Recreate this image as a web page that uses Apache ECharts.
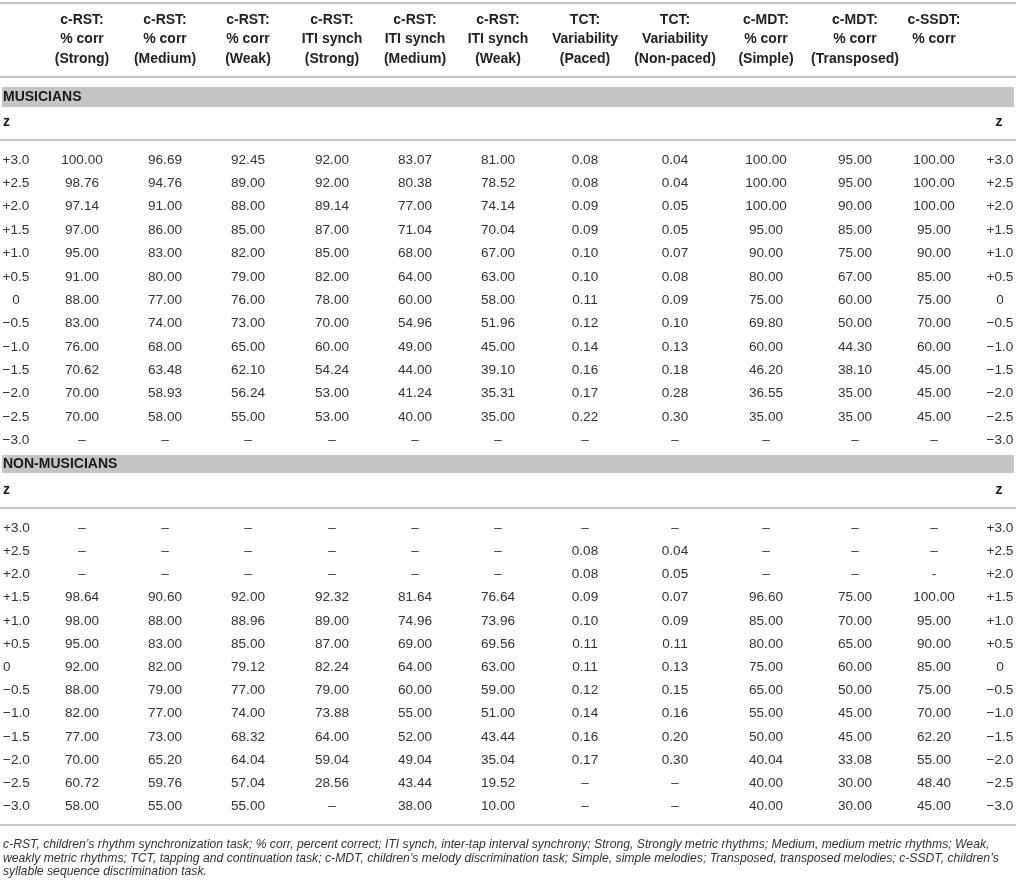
<!DOCTYPE html>
<html>
<head>
<meta charset="utf-8">
<script src="https://cdn.jsdelivr.net/npm/echarts@6/dist/echarts.min.js"></script>
<style>
html, body { margin: 0; padding: 0; background: #fff; }
#main { width: 1016px; height: 888px; }
</style>
</head>
<body>
<div id="main"></div>
<script>
// z rows, top to bottom
var zLabels = ['+3.0', '+2.5', '+2.0', '+1.5', '+1.0', '+0.5', '0', '−0.5', '−1.0', '−1.5', '−2.0', '−2.5', '−3.0'];

// column headings (three lines each)
var headers = [
    ['c-RST:', '% corr', '(Strong)'],
    ['c-RST:', '% corr', '(Medium)'],
    ['c-RST:', '% corr', '(Weak)'],
    ['c-RST:', 'ITI synch', '(Strong)'],
    ['c-RST:', 'ITI synch', '(Medium)'],
    ['c-RST:', 'ITI synch', '(Weak)'],
    ['TCT:', 'Variability', '(Paced)'],
    ['TCT:', 'Variability', '(Non-paced)'],
    ['c-MDT:', '% corr', '(Simple)'],
    ['c-MDT:', '% corr', '(Transposed)'],
    ['c-SSDT:', '% corr', '']
];

// musicians, one array per column (null = no value)
var musCorrStrong = [100.00, 98.76, 97.14, 97.00, 95.00, 91.00, 88.00, 83.00, 76.00, 70.62, 70.00, 70.00, null];
var musCorrMedium = [96.69, 94.76, 91.00, 86.00, 83.00, 80.00, 77.00, 74.00, 68.00, 63.48, 58.93, 58.00, null];
var musCorrWeak = [92.45, 89.00, 88.00, 85.00, 82.00, 79.00, 76.00, 73.00, 65.00, 62.10, 56.24, 55.00, null];
var musItiStrong = [92.00, 92.00, 89.14, 87.00, 85.00, 82.00, 78.00, 70.00, 60.00, 54.24, 53.00, 53.00, null];
var musItiMedium = [83.07, 80.38, 77.00, 71.04, 68.00, 64.00, 60.00, 54.96, 49.00, 44.00, 41.24, 40.00, null];
var musItiWeak = [81.00, 78.52, 74.14, 70.04, 67.00, 63.00, 58.00, 51.96, 45.00, 39.10, 35.31, 35.00, null];
var musTctPaced = [0.08, 0.08, 0.09, 0.09, 0.10, 0.10, 0.11, 0.12, 0.14, 0.16, 0.17, 0.22, null];
var musTctNonPaced = [0.04, 0.04, 0.05, 0.05, 0.07, 0.08, 0.09, 0.10, 0.13, 0.18, 0.28, 0.30, null];
var musMdtSimple = [100.00, 100.00, 100.00, 95.00, 90.00, 80.00, 75.00, 69.80, 60.00, 46.20, 36.55, 35.00, null];
var musMdtTransposed = [95.00, 95.00, 90.00, 85.00, 75.00, 67.00, 60.00, 50.00, 44.30, 38.10, 35.00, 35.00, null];
var musSsdt = [100.00, 100.00, 100.00, 95.00, 90.00, 85.00, 75.00, 70.00, 60.00, 45.00, 45.00, 45.00, null];

// non-musicians
var nonCorrStrong = [null, null, null, 98.64, 98.00, 95.00, 92.00, 88.00, 82.00, 77.00, 70.00, 60.72, 58.00];
var nonCorrMedium = [null, null, null, 90.60, 88.00, 83.00, 82.00, 79.00, 77.00, 73.00, 65.20, 59.76, 55.00];
var nonCorrWeak = [null, null, null, 92.00, 88.96, 85.00, 79.12, 77.00, 74.00, 68.32, 64.04, 57.04, 55.00];
var nonItiStrong = [null, null, null, 92.32, 89.00, 87.00, 82.24, 79.00, 73.88, 64.00, 59.04, 28.56, null];
var nonItiMedium = [null, null, null, 81.64, 74.96, 69.00, 64.00, 60.00, 55.00, 52.00, 49.04, 43.44, 38.00];
var nonItiWeak = [null, null, null, 76.64, 73.96, 69.56, 63.00, 59.00, 51.00, 43.44, 35.04, 19.52, 10.00];
var nonTctPaced = [null, 0.08, 0.08, 0.09, 0.10, 0.11, 0.11, 0.12, 0.14, 0.16, 0.17, null, null];
var nonTctNonPaced = [null, 0.04, 0.05, 0.07, 0.09, 0.11, 0.13, 0.15, 0.16, 0.20, 0.30, null, null];
var nonMdtSimple = [null, null, null, 96.60, 85.00, 80.00, 75.00, 65.00, 55.00, 50.00, 40.04, 40.00, 40.00];
var nonMdtTransposed = [null, null, null, 75.00, 70.00, 65.00, 60.00, 50.00, 45.00, 45.00, 33.08, 30.00, 30.00];
var nonSsdt = [null, null, '-', 100.00, 95.00, 90.00, 85.00, 75.00, 70.00, 62.20, 55.00, 48.40, 45.00];

var footnote = [
    'c-RST, children’s rhythm synchronization task; % corr, percent correct; ITI synch, inter-tap interval synchrony; Strong, Strongly metric rhythms; Medium, medium metric rhythms; Weak,',
    'weakly metric rhythms; TCT, tapping and continuation task; c-MDT, children’s melody discrimination task; Simple, simple melodies; Transposed, transposed melodies; c-SSDT, children’s',
    'syllable sequence discrimination task.'
];

(function () {
    var W = 1016, H = 888;
    var FONT = '"Liberation Sans", Arial, sans-serif';

    // layout (page units, mapped through the value axes)
    var colX = [16, 82, 165, 248, 332, 415, 498, 585, 675, 766, 855, 934, 1000];
    var headerY = [20, 39, 59];
    var ruleY = [3, 77, 140, 508, 825];
    var footY = [845, 858.5, 872];

    var sections = [
        {
            name: 'MUSICIANS',
            cols: [musCorrStrong, musCorrMedium, musCorrWeak, musItiStrong, musItiMedium, musItiWeak,
                musTctPaced, musTctNonPaced, musMdtSimple, musMdtTransposed, musSsdt],
            band: [87, 107], zY: 122, first: 160, step: 23.35, leftAlign: 'center'
        },
        {
            name: 'NON-MUSICIANS',
            cols: [nonCorrStrong, nonCorrMedium, nonCorrWeak, nonItiStrong, nonItiMedium, nonItiWeak,
                nonTctPaced, nonTctNonPaced, nonMdtSimple, nonMdtTransposed, nonSsdt],
            band: [455, 473], zY: 490, first: 528, step: 23.2, leftAlign: 'left'
        }
    ];

    var cells = [];
    function put(x, y, text, font, fill, align) {
        cells.push({ value: [x, y], text: text, font: font, fill: fill, align: align });
    }
    var bold = 'bold 14px ' + FONT;
    var bandFont = 'bold 14px ' + FONT;
    var body = '13.6px ' + FONT;

    headers.forEach(function (lines, j) {
        lines.forEach(function (t, k) {
            if (t) put(colX[j + 1], headerY[k], t, bold, '#222', 'center');
        });
    });

    var bands = [];
    sections.forEach(function (s) {
        bands.push([2, s.band[0], 1014, s.band[1]]);
        put(3, (s.band[0] + s.band[1]) / 2, s.name, bandFont, '#1a1a1a', 'left');
        put(3, s.zY, 'z', bandFont, '#1a1a1a', 'left');
        put(999, s.zY, 'z', bandFont, '#1a1a1a', 'center');
        zLabels.forEach(function (z, i) {
            var y = s.first + i * s.step;
            if (s.leftAlign === 'left') put(3, y, z, body, '#333', 'left');
            else put(colX[0], y, z, body, '#333', 'center');
            put(colX[12], y, z, body, '#333', 'center');
            s.cols.forEach(function (col, j) {
                var v = col[i];
                var t = v == null ? '–' : (typeof v === 'number' ? v.toFixed(2) : v);
                put(colX[j + 1], y, t, body, '#333', 'center');
            });
        });
    });

    footnote.forEach(function (t, k) {
        put(3, footY[k], t, 'italic 12.2px ' + FONT, '#333', 'left');
    });

    var chart = echarts.init(document.getElementById('main'));
    chart.setOption({
        animation: false,
        grid: { left: 0, right: 0, top: 0, bottom: 0 },
        xAxis: { type: 'value', min: 0, max: W, show: false },
        yAxis: { type: 'value', min: 0, max: H, inverse: true, show: false },
        series: [
            {
                type: 'custom',
                name: 'bands',
                silent: true,
                data: bands,
                renderItem: function (params, api) {
                    var a = api.coord([api.value(0), api.value(1)]);
                    var b = api.coord([api.value(2), api.value(3)]);
                    return {
                        type: 'rect',
                        shape: { x: a[0], y: a[1], width: b[0] - a[0], height: b[1] - a[1] },
                        style: { fill: '#c4c4c4' }
                    };
                }
            },
            {
                type: 'custom',
                name: 'rules',
                silent: true,
                data: ruleY.map(function (y) { return [0, y, W]; }),
                renderItem: function (params, api) {
                    var a = api.coord([api.value(0), api.value(1)]);
                    var b = api.coord([api.value(2), api.value(1)]);
                    return {
                        type: 'line',
                        shape: { x1: a[0], y1: a[1], x2: b[0], y2: b[1] },
                        style: { stroke: '#c6c6c6', lineWidth: 2 }
                    };
                }
            },
            {
                type: 'custom',
                name: 'cells',
                silent: true,
                data: cells.map(function (c) { return c.value; }),
                renderItem: function (params, api) {
                    var c = cells[params.dataIndex];
                    var p = api.coord([api.value(0), api.value(1)]);
                    return {
                        type: 'text',
                        x: p[0],
                        y: p[1],
                        style: {
                            text: c.text,
                            font: c.font,
                            fill: c.fill,
                            align: c.align,
                            verticalAlign: 'middle'
                        }
                    };
                }
            }
        ]
    });
})();
</script>
</body>
</html>
